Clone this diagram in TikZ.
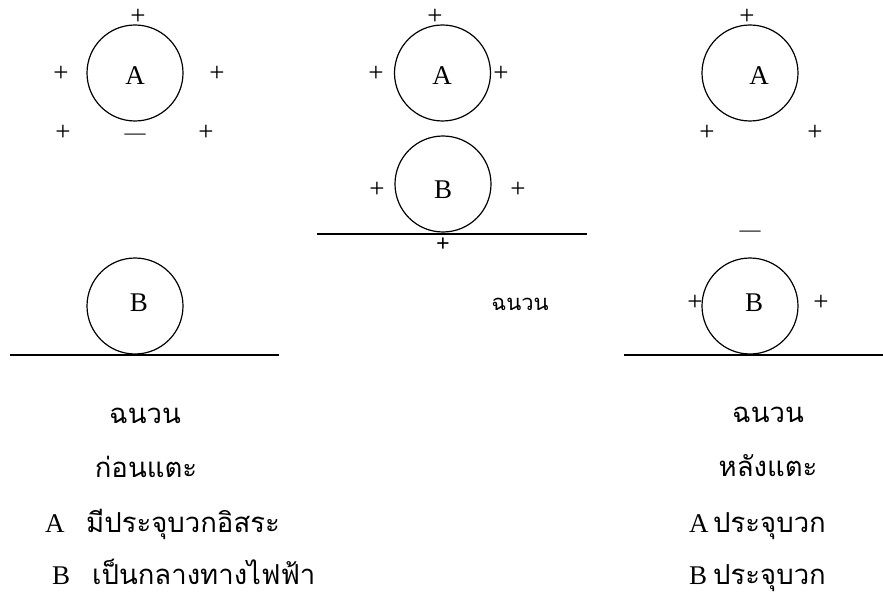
\documentclass[tikz,border=0pt]{standalone}
\usepackage{fontspec}
\setmainfont{Liberation Serif}
\newfontfamily\thai[Script=Thai]{Loma}
\begin{document}
\begin{tikzpicture}[x=1pt,y=-1pt,
  ball/.style={circle,draw,line width=1.2pt,minimum size=96pt,inner sep=0pt},
  lbl/.style={font=\fontsize{27}{30}\selectfont,inner sep=0pt},
  chg/.style={font=\fontsize{27}{30}\selectfont,inner sep=0pt},
  neg/.style={font=\fontsize{21}{24}\selectfont,inner sep=0pt},
  boldchg/.style={font=\fontsize{24}{26}\selectfont\bfseries,inner sep=0pt},
  thaitext/.style={font=\fontsize{27.5}{30}\selectfont\thai,inner sep=0pt,anchor=base},
  latin/.style={font=\fontsize{27}{30}\selectfont,inner sep=0pt,anchor=base west},
  ground/.style={line width=1.3pt}]
\useasboundingbox (0,0) rectangle (883,596);

% ---------- panel 1 ----------
\node[ball] (A1) at (135,73) {};
\node[lbl] (A1t) at (135,76) {A};
\node[chg] (p1a) at (138,17) {+};
\node[chg] (p1b) at (61,74) {+};
\node[chg] (p1c) at (217,74) {+};
\node[chg] (p1d) at (63,133) {+};
\node[chg] (p1e) at (206,133) {+};
\node[neg] (m1) at (135,137) {—};
\node[ball] (B1) at (135,306) {};
\node[lbl] (B1t) at (139,303) {B};
\coordinate (g1l) at (10,355);
\coordinate (g1r) at (279,355);
\draw[ground] (g1l) -- (g1r);

% ---------- panel 2 ----------
\node[ball] (A2) at (442.5,73) {};
\node[lbl] (A2t) at (442,76) {A};
\node[chg] (p2a) at (435,17) {+};
\node[chg] (p2b) at (376,74) {+};
\node[chg] (p2c) at (501,74) {+};
\node[ball] (B2) at (443,184) {};
\node[lbl] (B2t) at (443,190) {B};
\node[chg] (p2d) at (377,190) {+};
\node[chg] (p2e) at (518,190) {+};
\coordinate (g2l) at (317,234);
\coordinate (g2r) at (587,234);
\draw[ground] (g2l) -- (g2r);
\node[boldchg] (p2f) at (443,245) {+};
\node[thaitext,font=\fontsize{22}{24}\selectfont\thai] (ins2) at (520,310) {ฉนวน};

% ---------- panel 3 ----------
\node[ball] (A3) at (750,73) {};
\node[lbl] (A3t) at (759,76) {A};
\node[chg] (p3a) at (747,17) {+};
\node[chg] (p3b) at (707,133) {+};
\node[chg] (p3c) at (815,133) {+};
\node[neg] (m3) at (750,234) {—};
\node[ball] (B3) at (750,306) {};
\node[lbl] (B3t) at (754,303) {B};
\node[chg] (p3d) at (695,303) {+};
\node[chg] (p3e) at (821,303) {+};
\coordinate (g3l) at (624,355);
\coordinate (g3r) at (883,355);
\draw[ground] (g3l) -- (g3r);

% ---------- captions left ----------
\node[thaitext] (c1a) at (145,423) {ฉนวน};
\node[thaitext] (c1b) at (146,477) {ก่อนแตะ};
\node[latin] (c1cA) at (45,532) {A};
\node[thaitext,anchor=base west] (c1c) at (86,532) {มีประจุบวกอิสระ};
\node[latin] (c1dB) at (52,584) {B};
\node[thaitext,anchor=base west] (c1d) at (92,584) {เป็นกลางทางไฟฟ้า};

% ---------- captions right ----------
\node[thaitext] (c2a) at (768,422) {ฉนวน};
\node[thaitext] (c2b) at (768,476) {หลังแตะ};
\node[latin] (c2cA) at (689,532) {A};
\node[thaitext,anchor=base west] (c2c) at (713,532) {ประจุบวก};
\node[latin] (c2dB) at (689,584) {B};
\node[thaitext,anchor=base west] (c2d) at (713,584) {ประจุบวก};
\end{tikzpicture}
\end{document}
